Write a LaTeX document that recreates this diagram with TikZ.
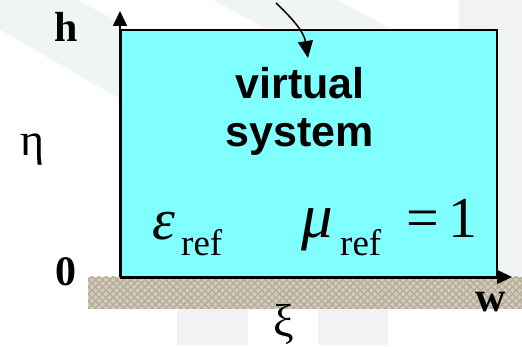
\documentclass[tikz,border=0pt]{standalone}
\usepackage{fontspec}
\setmainfont{Liberation Serif}
\newfontfamily\arialbf{Liberation Sans}[BoldFont={* Bold}]
\usetikzlibrary{arrows.meta,patterns.meta}
\definecolor{boxcyan}{HTML}{80FFFF}
\definecolor{bandgreen}{HTML}{EEF5F2}
\definecolor{bggrey}{HTML}{F1F2F4}
\definecolor{groundtan}{HTML}{D2CBBB}
\definecolor{groundhatch}{HTML}{B5AC97}
\tikzset{
  axisline/.style={line width=1.6pt,-{Triangle[length=15pt,width=14pt]}},
  bigbold/.style={font=\fontsize{42}{42}\selectfont\bfseries,inner sep=0pt},
  greek/.style={font=\fontsize{46}{46}\selectfont,inner sep=0pt},
  mathbig/.style={font=\fontsize{58}{58}\selectfont,inner sep=0pt,anchor=base west},
  mathsub/.style={font=\fontsize{37}{37}\selectfont,inner sep=0pt,anchor=base west},
  boxlabel/.style={font=\arialbf\bfseries\fontsize{43}{48}\selectfont,align=center,inner sep=0pt}
}
\begin{document}
\begin{tikzpicture}[x=1pt,y=-1pt]
\useasboundingbox (0,0) rectangle (522,347);
% faint background
\fill[bandgreen] (0,0) -- (78,0) -- (122,24) -- (122,100) -- (0,30) -- cycle;
\fill[bandgreen] (213,0) -- (337,0) -- (390,28) -- (265,28) -- cycle;
\fill[bggrey] (459,0) rectangle (522,278);
\fill[bggrey] (177,309) rectangle (248,345);
\fill[bggrey] (318,309) rectangle (388,345);
% ground
\fill[groundtan] (88,277) rectangle (522,309);
\fill[pattern={Lines[angle=45,distance=5pt,line width=1.3pt]},pattern color=groundhatch] (88,277) rectangle (522,309);
\fill[pattern={Lines[angle=-45,distance=5pt,line width=1.3pt]},pattern color=groundhatch] (88,277) rectangle (522,309);
% box
\node[draw=black,line width=2pt,fill=boxcyan,minimum width=376pt,minimum height=248pt,anchor=north west,inner sep=0pt] (box) at (120,29) {};
% axes
\coordinate (origin) at (120,277);
\coordinate (htip) at (120,11);
\coordinate (wtip) at (512,277);
\draw[axisline] (origin) -- (htip);
\draw[axisline] (origin) -- (wtip);
% curved arrow
\coordinate (cstart) at (276,3);
\coordinate (cend) at (308,58);
\draw[line width=1.5pt,-{Triangle[length=17pt,width=15pt]}] (cstart) .. controls (292,18) and (304,32) .. (cend);
% labels
\node[bigbold] (hlab) at (66,27) {h};
\node[bigbold] (zlab) at (66,272) {0};
\node[bigbold] (wlab) at (491,302) {w};
\node[greek] (etalab) at (33,150) {η};
\node[greek] (xilab) at (284,324) {ξ};
\node[boxlabel] (vs) at (300,111) {virtual\\system};
% epsilon_ref
\node[mathbig] (eps) at (152,240) {\itshape ε};
\node[mathsub] (epsref) at (181,256) {ref};
% mu_ref = 1
\node[mathbig,font=\fontsize{63}{63}\selectfont] (mu) at (301,238) {\itshape μ};
\node[mathsub] (muref) at (340,256) {ref};
\node[mathbig] (eq) at (406,238) {=};
\node[mathbig] (one) at (448,238) {1};
\end{tikzpicture}
\end{document}
